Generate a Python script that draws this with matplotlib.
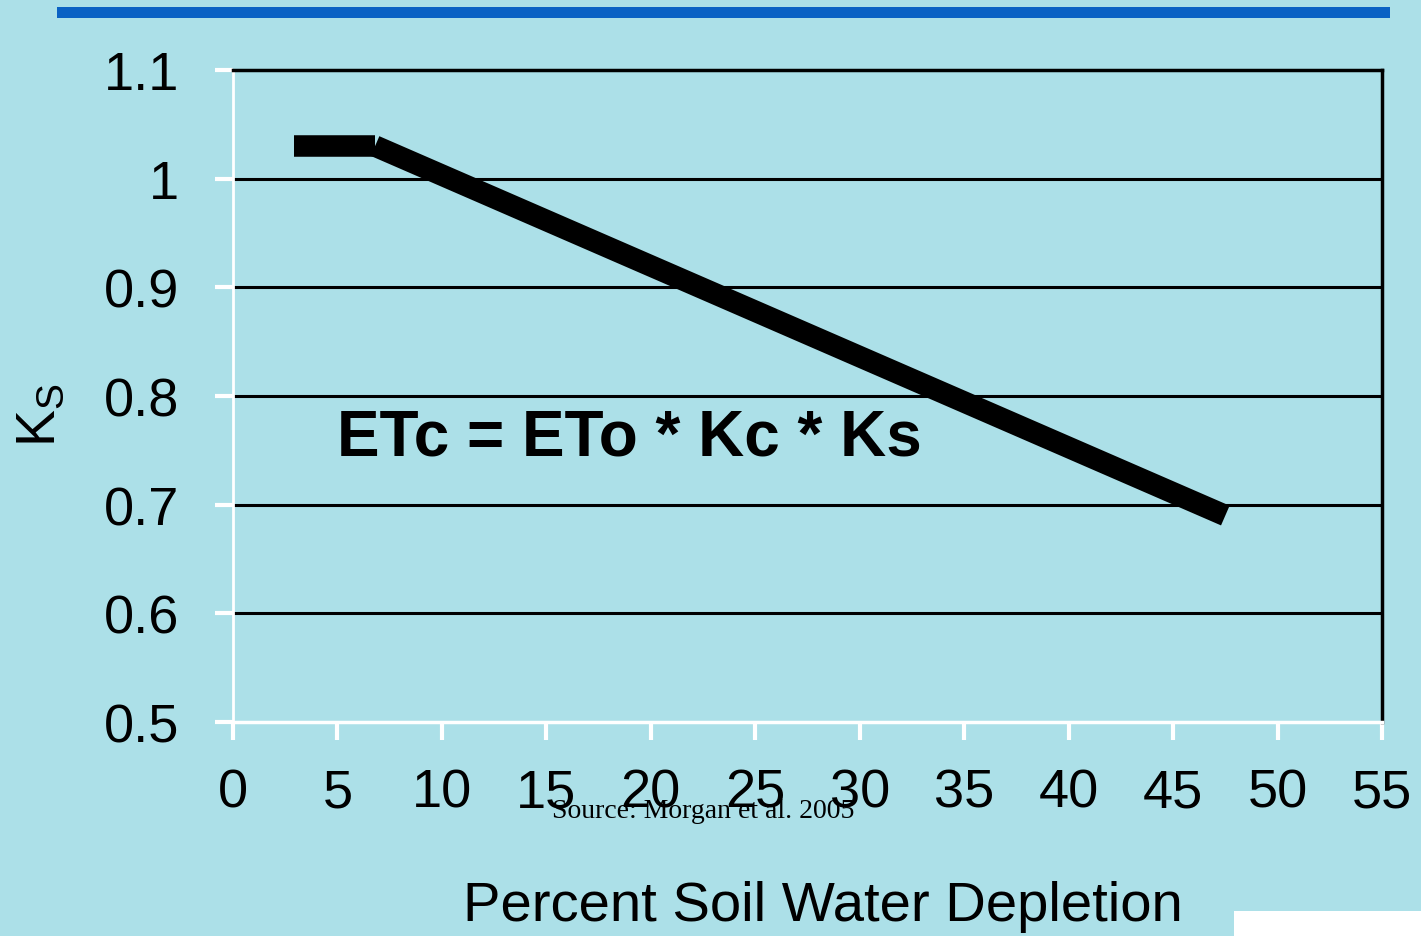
import matplotlib.pyplot as plt
from matplotlib import patches

plt.rcParams['font.family'] = ['Liberation Sans', 'DejaVu Sans']

# data
flat_x = [2.9, 6.8]
flat_y = [1.03, 1.03]
slope_x = [6.8, 47.5]
slope_y = [1.03, 0.69]
x_ticks = [0, 5, 10, 15, 20, 25, 30, 35, 40, 45, 50, 55]
y_ticks = [0.5, 0.6, 0.7, 0.8, 0.9, 1.0, 1.1]
y_labels = ['0.5', '0.6', '0.7', '0.8', '0.9', '1', '1.1']

BG = '#ace0e8'

fig = plt.figure(figsize=(14.21, 9.37), dpi=100, facecolor=BG)

# blue bar at the top and white box bottom right
fig.patches.append(patches.Rectangle((57 / 1421, 1 - 19 / 937), 1333 / 1421, 11 / 937,
                                     transform=fig.transFigure, facecolor='#0a62c4',
                                     edgecolor='none', zorder=0))
fig.patches.append(patches.Rectangle((1234 / 1421, 0), 187 / 1421, 25 / 937,
                                     transform=fig.transFigure, facecolor='white',
                                     edgecolor='none', zorder=0))

ax = fig.add_axes([233 / 1421, 1 - 723 / 937, 1149 / 1421, 652 / 937])
ax.set_facecolor('none')
ax.set_xlim(0, 55)
ax.set_ylim(0.5, 1.1)

for yv in y_ticks[1:-1]:
    ax.axhline(yv, color='black', lw=2.2, zorder=1)

ax.plot(flat_x, flat_y, color='black', lw=15.5, solid_capstyle='butt', zorder=3)
ax.plot(slope_x, slope_y, color='black', lw=15.5, solid_capstyle='butt', zorder=3)

ax.spines['top'].set_color('black')
ax.spines['top'].set_linewidth(2.5)
ax.spines['right'].set_color('black')
ax.spines['right'].set_linewidth(2.5)
ax.spines['left'].set_color('white')
ax.spines['left'].set_linewidth(2)
ax.spines['bottom'].set_color('white')
ax.spines['bottom'].set_linewidth(2.5)

ax.set_xticks(x_ticks)
ax.set_xticklabels([str(v) for v in x_ticks])
ax.set_yticks(y_ticks)
ax.set_yticklabels(y_labels)
ax.tick_params(axis='both', colors='white', labelcolor='black', labelsize=39,
               length=13, width=3, direction='out')
ax.tick_params(axis='x', pad=20)
ax.tick_params(axis='y', pad=26)

ax.set_xlabel('Percent Soil Water Depletion', fontsize=40.5, va='center')
ax.xaxis.set_label_coords(0.5135, -0.282)
ax.set_ylabel(r'K$_\mathregular{S}$', fontsize=40, va='center')
ax.yaxis.set_label_coords(-0.167, 0.472)

ax.text(4.98, 0.762, 'ETc = ETo * Kc * Ks', fontsize=46, fontweight='bold',
        ha='left', va='center', zorder=4)

fig.text(703 / 1421, 1 - 811 / 937, 'Source: Morgan et al. 2005', family='Liberation Serif',
         fontsize=20, ha='center', va='center')

fig.savefig('out.png', dpi=100, facecolor=BG)
